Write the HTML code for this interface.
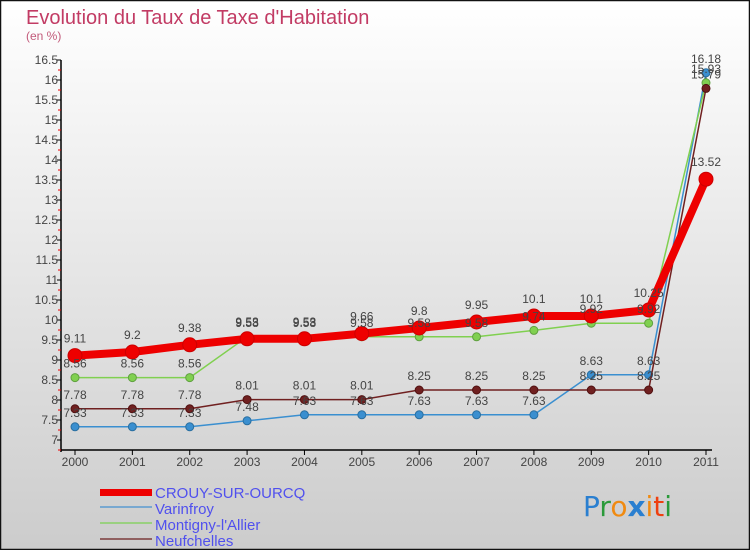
<!DOCTYPE html>
<html><head><meta charset="utf-8">
<style>
body{margin:0;width:750px;height:550px;overflow:hidden;font-family:"Liberation Sans",sans-serif}
svg{display:block}
</style></head><body>
<svg id="chart" width="750" height="550" xmlns="http://www.w3.org/2000/svg">
<defs><linearGradient id="bg" x1="0" y1="0" x2="0" y2="1"><stop offset="0" stop-color="#ffffff"/><stop offset="1" stop-color="#cccccc"/></linearGradient></defs>
<rect x="0.5" y="0.5" width="749" height="549" fill="url(#bg)" stroke="#111" stroke-width="1.5"/>
<text x="26" y="24" font-size="20" fill="#c23b64">Evolution du Taux de Taxe d'Habitation</text>
<text x="26" y="40" font-size="12" fill="#c25a7a">(en %)</text>
<g id="axes"></g><g id="series"></g><g id="labels"></g>
<g>
<rect x="100" y="489" width="52" height="7" fill="#ee0000"/>
<line x1="100" y1="507" x2="152" y2="507" stroke="#78a8d0" stroke-width="2"/>
<line x1="100" y1="523" x2="152" y2="523" stroke="#9ad080" stroke-width="2"/>
<line x1="100" y1="539" x2="152" y2="539" stroke="#906060" stroke-width="2"/>
<g font-size="15" fill="#5050ee">
<text x="155" y="498">CROUY-SUR-OURCQ</text>
<text x="155" y="514">Varinfroy</text>
<text x="155" y="530">Montigny-l'Allier</text>
<text x="155" y="546">Neufchelles</text>
</g></g>
<g font-size="28" font-family="'DejaVu Sans',sans-serif">
<text x="583" y="516"><tspan fill="#2a7fd0">P</tspan><tspan fill="#2a9a3a">r</tspan><tspan fill="#f08a10">o</tspan><tspan fill="#2a7fd0" font-weight="bold">x</tspan><tspan fill="#f08a10">i</tspan><tspan fill="#ee4010">t</tspan><tspan fill="#2a9a3a">i</tspan></text>
</g>
</svg>
<script>
const years=["2000","2001","2002","2003","2004","2005","2006","2007","2008","2009","2010","2011"];
const crouy=[9.11,9.2,9.38,9.53,9.53,9.66,9.8,9.95,10.1,10.1,10.25,13.52];
const varinfroy=[7.33,7.33,7.33,7.48,7.63,7.63,7.63,7.63,7.63,8.63,8.63,16.18];
const montigny=[8.56,8.56,8.56,9.58,9.58,9.58,9.58,9.58,9.74,9.92,9.92,15.93];
const neufchelles=[7.78,7.78,7.78,8.01,8.01,8.01,8.25,8.25,8.25,8.25,8.25,15.79];
const yTicks=["7","7.5","8","8.5","9","9.5","10","10.5","11","11.5","12","12.5","13","13.5","14","14.5","15","15.5","16","16.5"];
const NS="http://www.w3.org/2000/svg";
const X=i=>75+i*(706-75)/11;
const Y=v=>440-(v-7)*40;
function mk(t,a,p){const e=document.createElementNS(NS,t);for(const k in a)e.setAttribute(k,a[k]);p.appendChild(e);return e;}
const ax=document.getElementById('axes');
let yl=mk('line',{x1:61,y1:Y(16.5),x2:61,y2:452,stroke:'#000','stroke-width':1.5},ax);


let xl=mk('line',{x1:61,y1:450,x2:712,y2:450,stroke:'#000','stroke-width':1.5},ax);


yTicks.forEach(t=>{const v=parseFloat(t),y=Y(v);
 mk('line',{x1:57,y1:y,x2:61,y2:y,stroke:'#000'},ax);
 mk('line',{x1:58,y1:y+10,x2:61,y2:y+10,stroke:'#e00'},ax);
 const tx=mk('text',{x:58,y:y+4,'font-size':12,fill:'#444','text-anchor':'end'},ax);tx.textContent=t;
 
 });
years.forEach((yr,i)=>{mk('line',{x1:X(i),y1:450,x2:X(i),y2:455,stroke:'#000'},ax);
 const tx=mk('text',{x:X(i),y:466,'font-size':12,fill:'#444','text-anchor':'middle'},ax);tx.textContent=yr;
 
 });
const sg=document.getElementById('series'),lg=document.getElementById('labels');
function series(name,data,color,w,r,stroke){
 const g=mk('g',{},sg);
 
 
 mk('polyline',{points:data.map((v,i)=>X(i)+','+Y(v)).join(' '),fill:'none',stroke:color,'stroke-width':w,'stroke-linejoin':'round'},g);
 data.forEach((v,i)=>{const c=mk('circle',{cx:X(i),cy:Y(v),r:r,fill:color,stroke:stroke,'stroke-width':1},g);
  
  
  const t=mk('text',{x:X(i),y:Y(v)-(r+6),'font-size':12,fill:'#444','text-anchor':'middle'},lg);t.textContent=String(v);
  
  });
}
series('varinfroy',varinfroy,'#3a8fd0',1.5,4,'#2a6fa0');
series('montigny',montigny,'#80d050',1.5,4,'#60a040');
series('neufchelles',neufchelles,'#702020',1.5,4,'#501010');
series('crouy',crouy,'#ee0000',8,7,'#cc0000');
</script>
</body></html>
